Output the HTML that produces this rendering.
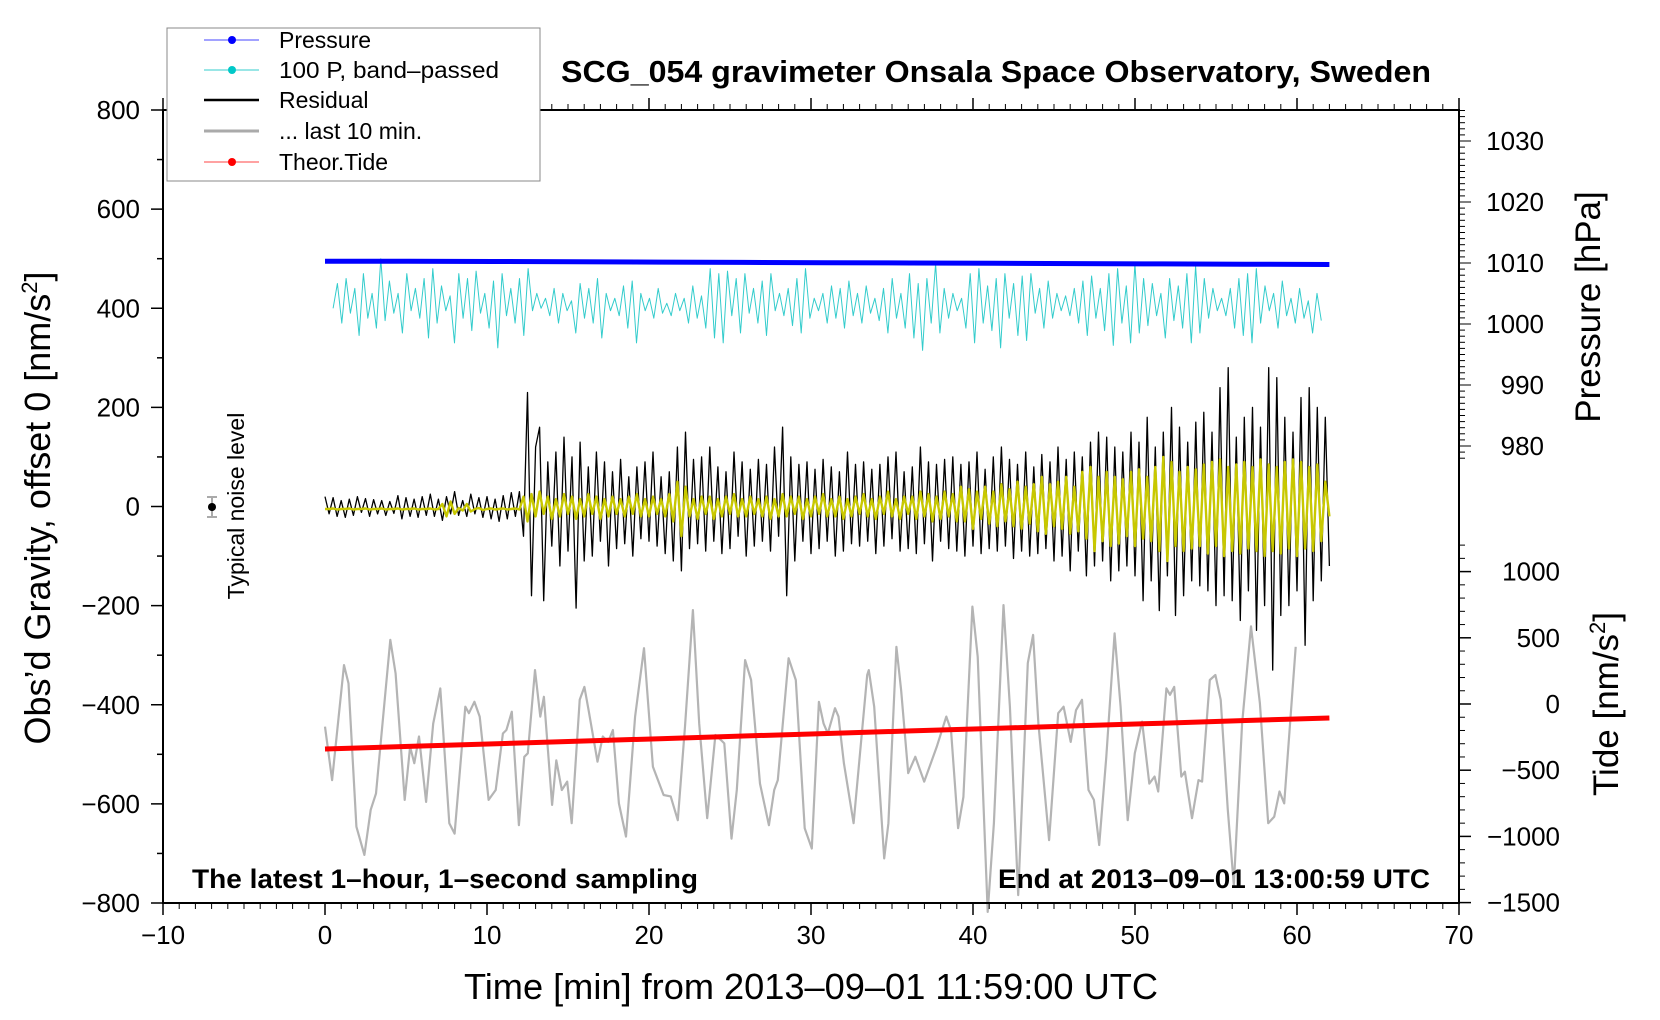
<!DOCTYPE html>
<html><head><meta charset="utf-8"><style>
html,body{margin:0;padding:0;background:#fff;}
svg{display:block;font-family:"Liberation Sans",sans-serif;}
</style></head><body>
<svg id="chart" width="1660" height="1020" viewBox="0 0 1660 1020" xmlns="http://www.w3.org/2000/svg">
<rect width="1660" height="1020" fill="#fff"/>
<g id="series"></g>
<g id="axes"></g>
<rect x="163" y="110" width="1296" height="793" fill="none" stroke="#000" stroke-width="2"/>
<text x="996" y="82" font-size="31" font-weight="bold" text-anchor="middle" textLength="870" lengthAdjust="spacingAndGlyphs">SCG_054 gravimeter Onsala Space Observatory, Sweden</text>
<text transform="translate(50,508) rotate(-90)" font-size="36" text-anchor="middle">Obs’d Gravity, offset 0 [nm/s<tspan font-size="22" dy="-13">2</tspan><tspan dy="13">]</tspan></text>
<text transform="translate(1600,307) rotate(-90)" font-size="35" text-anchor="middle">Pressure [hPa]</text>
<text transform="translate(1618,704) rotate(-90)" font-size="35" text-anchor="middle">Tide [nm/s<tspan font-size="22" dy="-13">2</tspan><tspan dy="13">]</tspan></text>
<text x="811" y="999" font-size="36" text-anchor="middle" textLength="694" lengthAdjust="spacingAndGlyphs">Time [min] from 2013–09–01 11:59:00 UTC</text>
<text x="192" y="888" font-size="27" font-weight="bold" textLength="506" lengthAdjust="spacingAndGlyphs">The latest 1–hour, 1–second sampling</text>
<text x="998" y="888" font-size="27" font-weight="bold" textLength="432" lengthAdjust="spacingAndGlyphs">End at 2013–09–01 13:00:59 UTC</text>
<g>
<line x1="212" y1="497" x2="212" y2="517" stroke="#aaa" stroke-width="2"/>
<line x1="207" y1="497" x2="217" y2="497" stroke="#aaa" stroke-width="2"/>
<line x1="207" y1="517" x2="217" y2="517" stroke="#aaa" stroke-width="2"/>
<circle cx="212" cy="507" r="4" fill="#000"/>
<text transform="translate(244,506) rotate(-90)" font-size="23" text-anchor="middle">Typical noise level</text>
</g>
<g>
<rect x="167" y="28" width="373" height="153" fill="#fff" stroke="#888" stroke-width="1"/>
<g><line x1="204" y1="40" x2="259" y2="40" stroke="#4444ff" stroke-width="1"/><circle cx="232" cy="40" r="4" fill="#0000ff"/><text x="279" y="48" font-size="23">Pressure</text></g>
<g><line x1="204" y1="70" x2="259" y2="70" stroke="#33cccc" stroke-width="1"/><circle cx="232" cy="70" r="4" fill="#00c8c8"/><text x="279" y="78" font-size="23" textLength="220" lengthAdjust="spacingAndGlyphs">100 P, band–passed</text></g>
<g><line x1="204" y1="100" x2="259" y2="100" stroke="#000" stroke-width="2.5"/><text x="279" y="108" font-size="23">Residual</text></g>
<g><line x1="204" y1="131" x2="259" y2="131" stroke="#aaa" stroke-width="3"/><text x="279" y="139" font-size="23">... last 10 min.</text></g>
<g><line x1="204" y1="162" x2="259" y2="162" stroke="#ff4444" stroke-width="1"/><circle cx="232" cy="162" r="4" fill="#ff0000"/><text x="279" y="170" font-size="23">Theor.Tide</text></g>
</g>
</svg>
<script>
const xTicks=[-10,0,10,20,30,40,50,60,70];
const gTicks=[-800,-600,-400,-200,0,200,400,600,800];
const pTicks=[980,990,1000,1010,1020,1030];
const tideTicks=[-1500,-1000,-500,0,500,1000];
const pressureVals=[1010.3,1010.3,1010.25,1010.2,1010.15,1010.1,1010.05,1010.0,1009.95,1009.9,1009.85,1009.8,1009.75];
const tideVals=[-340,-320,-301,-281,-262,-242,-223,-203,-184,-164,-145,-125,-106];
const residualVals=[20,-15,18,-20,12,-22,15,-18,20,-12,16,-20,14,
-15,12,-18,10,-14,22,-25,18,-20,15,-22,20,
-18,25,-20,15,-28,20,-15,30,-18,12,-20,25,
-15,18,-22,20,-25,15,-30,22,-25,28,-20,30,
-60,230,-180,120,160,-190,90,-80,110,-120,140,-90,
100,-205,130,-110,80,-100,110,-70,90,-120,70,-85,
95,-75,60,-100,80,-65,90,-70,110,-80,60,-95,
70,-110,120,-130,150,-85,95,-75,100,-90,120,-70,
80,-95,70,-85,110,-60,90,-100,75,-80,95,-70,
85,-90,120,-60,160,-180,100,-110,85,-70,90,-95,
75,-85,95,-70,80,-100,70,-90,110,-75,85,-80,
90,-70,75,-95,85,-80,100,-65,110,-90,70,-85,
80,-95,120,-75,90,-110,85,-70,95,-85,100,-90,
85,-100,90,-80,110,-95,75,-85,100,-90,120,-80,
95,-105,85,-90,110,-100,80,-95,105,-85,90,-110,
120,-100,95,-130,110,-90,100,-140,130,-120,150,-110,
140,-150,120,-130,110,-120,150,-140,130,-190,180,-150,
120,-210,150,-140,200,-220,160,-180,130,-150,170,-160,
190,-170,150,-200,240,-180,280,-190,140,-230,180,-170,
200,-250,160,-200,280,-330,260,-220,180,-200,150,-170,
220,-280,240,-190,200,-150,180,-120];
const smoothVals=[-5,-5,-4,-6,-5,-5,-4,-6,-5,-5,-4,-6,-5,
-5,-4,-6,-5,-5,-4,-6,-5,-5,-4,-6,-5,
-5,-4,-6,-5,5,-20,10,-15,-3,-8,5,-10,
-5,-3,-7,-5,-4,-6,-5,-4,-6,-5,-4,-6,
20,-30,25,-20,30,-15,20,-25,15,-20,25,-15,
20,-25,15,-20,25,-15,20,-25,15,-20,20,-15,
15,-20,20,-15,25,-20,15,-20,20,-15,15,-20,
25,-30,50,-60,40,-20,15,-25,20,-15,20,-25,
15,-20,20,-15,25,-20,15,-20,20,-15,15,-20,
20,-25,15,-20,25,-20,20,-15,20,-25,15,-20,
20,-15,25,-20,15,-20,20,-25,15,-20,20,-15,
25,-20,15,-25,20,-15,30,-20,15,-25,20,-15,
20,-25,30,-20,25,-30,20,-25,30,-20,25,-30,
40,-30,35,-45,30,-25,40,-35,30,-40,45,-30,
35,-40,50,-45,40,-35,45,-50,60,-55,45,-40,
50,-45,60,-55,40,-50,70,-65,80,-90,60,-70,
70,-80,60,-75,55,-60,70,-80,75,-65,60,-70,
80,-90,100,-110,90,-80,70,-90,80,-85,75,-80,
85,-95,90,-80,95,-100,80,-90,85,-95,90,-85,
80,-90,95,-100,85,-90,80,-95,90,-85,95,-100,
90,-85,80,-90,85,-70,50,-20];
const bandVals=[400,450,370,460,390,440,345,470,380,430,360,500,375,455,390,430,350,470,395,440,380,460,340,480,
370,445,395,425,330,470,380,460,355,475,390,430,360,455,320,470,385,440,370,460,345,480,395,430,
400,420,385,440,370,430,395,415,350,450,380,440,370,460,340,430,395,420,385,445,360,455,330,430,
395,420,380,440,390,410,385,430,395,420,370,445,380,425,360,480,340,470,330,475,385,460,350,470,
390,440,370,455,345,470,395,430,385,440,365,460,350,480,380,420,395,430,370,445,380,440,360,455,
385,430,370,445,390,420,375,440,350,460,380,430,360,470,340,450,315,460,370,490,350,440,380,430,
395,420,360,470,330,480,370,445,355,460,320,470,380,450,345,465,335,470,390,440,360,455,380,430,
395,425,385,440,370,455,345,465,380,440,355,470,325,480,370,445,330,490,350,460,365,450,385,430,
340,460,375,445,360,470,330,485,350,460,380,440,395,420,385,440,360,460,345,470,330,480,370,445,
395,430,360,455,385,420,370,440,380,415,350,430,375];
const lastTimes=[0.00,0.44,1.17,1.45,1.94,2.43,2.82,3.15,4.03,4.36,4.92,5.25,5.51,5.80,6.24,6.68,7.12,7.67,8.00,8.66,8.88,9.22,9.55,10.10,10.54,10.98,11.20,11.53,11.97,12.30,12.52,12.96,13.29,13.51,14.02,14.28,14.62,14.95,15.23,15.72,16.01,16.27,16.82,17.15,17.48,17.77,18.14,18.58,19.14,19.69,20.24,20.90,21.34,21.78,22.22,22.71,23.10,23.59,24.10,24.43,24.65,25.09,25.42,25.93,26.30,26.85,27.40,27.73,27.95,28.62,29.06,29.61,30.05,30.49,30.78,31.04,31.48,31.70,32.03,32.63,33.47,
33.57,33.90,34.52,34.78,35.27,35.56,36.00,36.44,36.99,37.76,38.35,38.64,39.08,39.41,39.96,40.29,40.91,41.29,41.88,42.28,42.79,43.38,43.71,44.04,44.70,45.26,45.59,46.03,46.36,46.73,47.13,47.46,47.79,48.23,48.74,49.11,49.55,49.99,50.44,50.88,51.21,51.43,51.94,52.16,52.42,52.86,53.08,53.52,53.92,54.14,54.62,54.96,55.29,55.73,56.10,56.61,57.16,57.71,58.22,58.59,58.92,59.21,59.92];
const lastVals=[-444,-552,-320,-357,-646,-703,-612,-579,-269,-337,-592,-485,-518,-464,-596,-438,-367,-639,-660,-404,-417,-394,-424,-592,-572,-458,-451,-414,-643,-505,-498,-330,-424,-384,-602,-512,-572,-555,-639,-390,-364,-411,-515,-464,-475,-451,-599,-666,-424,-286,-525,-582,-585,-633,-444,-209,-438,-629,-461,-471,-478,-670,-572,-310,-350,-559,-643,-572,-552,-306,-350,-649,-690,-394,-438,-458,-407,-424,-518,-639,-340,
-330,-404,-710,-639,-283,-370,-538,-505,-555,-485,-424,-451,-649,-586,-202,-303,-818,-639,-199,-404,-784,-316,-259,-438,-673,-417,-404,-475,-411,-390,-572,-592,-683,-505,-256,-404,-633,-498,-434,-559,-545,-575,-367,-380,-364,-545,-535,-629,-552,-555,-350,-340,-390,-612,-764,-438,-242,-397,-639,-626,-575,-599,-283];

const NS='http://www.w3.org/2000/svg';
const L=163,R=1459,T=110,B=903;
function tx(t){return L+(t+10)*(R-L)/80;}
function gy(g){return 506.5-g*(B-T)/1600;}
function py(p){return 141+(1030-p)*6.1;}
function ty(v){return 704-v*0.1324;}
const series=document.getElementById('series');
const axes=document.getElementById('axes');
function mk(tag,attrs,parent){const e=document.createElementNS(NS,tag);for(const k in attrs)e.setAttribute(k,attrs[k]);parent.appendChild(e);return e;}
function poly(pts,stroke,w,name){
  const e=mk('polyline',{points:pts.map(p=>p[0].toFixed(1)+','+p[1].toFixed(1)).join(' '),fill:'none',stroke:stroke,'stroke-width':w,'stroke-linejoin':'round'},series);
  
  
  return e;
}
poly(lastVals.map((v,i)=>[tx(lastTimes[i]),gy(v)]),'#b4b4b4',2.2,'last-10-min-line');
poly(tideVals.map((v,i)=>[tx(i*62/(tideVals.length-1)),ty(v)]),'#ff0000',5,'theor-tide-line');
poly(residualVals.map((v,i)=>[tx(i*62/(residualVals.length-1)),gy(v)]),'#000',1.3,'residual-line');
poly(smoothVals.map((v,i)=>[tx(i*62/(smoothVals.length-1)),gy(v)]),'#c8c800',2.4,'residual-smoothed-line');
poly(bandVals.map((v,i)=>[tx(0.5+i*61/(bandVals.length-1)),gy(v)]),'#33cccc',1,'bandpassed-pressure-line');
poly(pressureVals.map((v,i)=>[tx(i*62/(pressureVals.length-1)),py(v)]),'#0000ff',5,'pressure-line');

function line(x1,y1,x2,y2,name,w){const e=mk('line',{x1:x1,y1:y1,x2:x2,y2:y2,stroke:'#000','stroke-width':w||1.5},axes);
  
  }
function label(x,y,s,anchor,name){const e=mk('text',{x:x,y:y,'font-size':26,'text-anchor':anchor},axes);e.textContent=s;
  
  }
function fmt(v){return String(v).replace('-','\u2212');}
for(let t=-10;t<=70;t++){const maj=(t%10===0);
  line(tx(t),B,tx(t),B+(maj?12:6),'x-tick',maj?1.5:1);
  line(tx(t),T,tx(t),T-(maj?12:6),'x-top-tick',maj?1.5:1);}
xTicks.forEach(t=>label(tx(t),B+41,fmt(t),'middle','x-tick-label'));
for(let g=-800;g<=800;g+=100){line(L,gy(g),L-(g%200===0?12:6),gy(g),'gravity-tick',1.5);}
gTicks.forEach(g=>label(140,gy(g)+9,fmt(g),'end','gravity-tick-label'));
for(let p=976;p<=1035;p++){if(py(p)<T||py(p)>460)continue;const maj=(p%10===0);line(R,py(p),R+(maj?12:6),py(p),'pressure-tick',1);}
pTicks.forEach(p=>label(1544,py(p)+9,String(p),'end','pressure-tick-label'));
for(let v=-1500;v<=1200;v+=100){const maj=(v%500===0);line(R,ty(v),R+(maj?12:6),ty(v),'tide-tick',maj?1.5:1);}
tideTicks.forEach(v=>label(1560,ty(v)+9,fmt(v),'end','tide-tick-label'));
</script>
</body></html>
